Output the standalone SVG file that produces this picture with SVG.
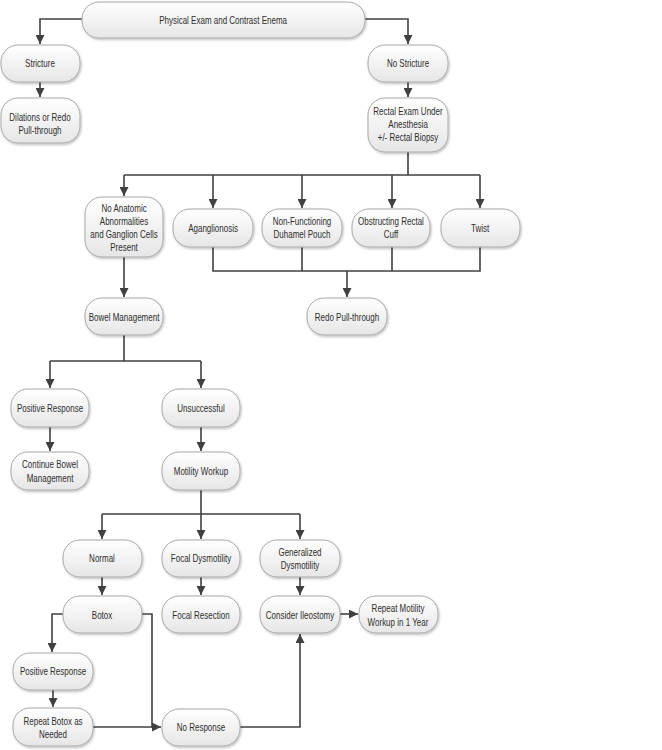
<svg xmlns="http://www.w3.org/2000/svg" width="662" height="750" viewBox="0 0 662 750">
<defs>
<linearGradient id="g" x1="0" y1="0" x2="0" y2="1">
<stop offset="0" stop-color="#ffffff"/>
<stop offset="1" stop-color="#e6e6e6"/>
</linearGradient>
<filter id="sh" x="-10%" y="-10%" width="130%" height="140%">
<feDropShadow dx="1" dy="1.5" stdDeviation="1.2" flood-color="#000" flood-opacity="0.25"/>
</filter>
<marker id="ah" viewBox="0 0 10 10" refX="10" refY="5" markerWidth="9" markerHeight="9" markerUnits="userSpaceOnUse" orient="auto">
<path d="M0,0 L10,5 L0,10 z" fill="#404040"/>
</marker>
<style>
.n rect{fill:url(#g);stroke:#a8a8a8;stroke-width:1;filter:url(#sh)}
.n text{font-family:"Liberation Sans",Arial,sans-serif;font-size:10px;fill:#2e2e2e;text-anchor:middle;dominant-baseline:central;transform-box:fill-box;transform-origin:center;transform:translateY(1px) scaleX(0.8)}
.c path{fill:none;stroke:#404040;stroke-width:1.6}
.c .a{marker-end:url(#ah)}
</style>
</defs>
<rect width="662" height="750" fill="#fff"/>
<g class="c">
<path class="a" d="M82,19 H40 V44"/>
<path class="a" d="M365,19 H408 V44"/>
<path class="a" d="M40,82 V97"/>
<path class="a" d="M408,82 V97"/>
<path d="M408,152 V175 M124,175 H480"/>
<path class="a" d="M124,175 V196"/>
<path class="a" d="M213,175 V208"/>
<path class="a" d="M302,175 V208"/>
<path class="a" d="M392,175 V208"/>
<path class="a" d="M480,175 V208"/>
<path d="M213,247 V271 H480 V247 M302,247 V271 M392,247 V271"/>
<path class="a" d="M347,271 V297"/>
<path class="a" d="M124,257 V297"/>
<path d="M124,335 V361 M50,361 H201"/>
<path class="a" d="M50,361 V388"/>
<path class="a" d="M201,361 V388"/>
<path class="a" d="M50,427 V451"/>
<path class="a" d="M201,427 V451"/>
<path d="M201,490 V514 M102,514 H300"/>
<path class="a" d="M102,514 V539"/>
<path class="a" d="M201,514 V539"/>
<path class="a" d="M300,514 V539"/>
<path class="a" d="M102,577 V595"/>
<path class="a" d="M201,577 V595"/>
<path class="a" d="M300,577 V595"/>
<path class="a" d="M340,614 H358"/>
<path class="a" d="M63,614 H52 V652"/>
<path class="a" d="M53,690 V707"/>
<path class="a" d="M142,614 H152 V727 H161"/>
<path d="M93,727 H152"/>
<path class="a" d="M240,727 H300 V634"/>
</g>
<g id="n1" class="n"><rect x="82" y="2" width="283" height="36" rx="17"/><text x="223" y="20">Physical Exam and Contrast Enema</text></g>
<g id="n2" class="n"><rect x="1" y="45" width="79" height="37" rx="17"/><text x="40" y="63">Stricture</text></g>
<g id="n3" class="n"><rect x="1" y="98" width="79" height="45" rx="17"/><text x="40" y="117">Dilations or Redo</text><text x="40" y="130">Pull-through</text></g>
<g id="n4" class="n"><rect x="368" y="45" width="80" height="37" rx="17"/><text x="408" y="63">No Stricture</text></g>
<g id="n5" class="n"><rect x="368" y="98" width="80" height="54" rx="17"/><text x="408" y="111">Rectal Exam Under</text><text x="408" y="124">Anesthesia</text><text x="408" y="137">+/- Rectal Biopsy</text></g>
<g id="n6" class="n"><rect x="85" y="197" width="78" height="60" rx="17"/><text x="124" y="208">No Anatomic</text><text x="124" y="221">Abnormalities</text><text x="124" y="234">and Ganglion Cells</text><text x="124" y="247">Present</text></g>
<g id="n7" class="n"><rect x="173" y="209" width="80" height="38" rx="17"/><text x="213" y="228">Aganglionosis</text></g>
<g id="n8" class="n"><rect x="262" y="209" width="80" height="38" rx="17"/><text x="302" y="221">Non-Functioning</text><text x="302" y="234">Duhamel Pouch</text></g>
<g id="n9" class="n"><rect x="352" y="209" width="78" height="38" rx="17"/><text x="391" y="221">Obstructing Rectal</text><text x="391" y="234">Cuff</text></g>
<g id="n10" class="n"><rect x="441" y="209" width="79" height="38" rx="17"/><text x="480" y="228">Twist</text></g>
<g id="n11" class="n"><rect x="85" y="298" width="78" height="37" rx="17"/><text x="124" y="317">Bowel Management</text></g>
<g id="n12" class="n"><rect x="307" y="298" width="80" height="37" rx="17"/><text x="347" y="317">Redo Pull-through</text></g>
<g id="n13" class="n"><rect x="11" y="389" width="78" height="38" rx="17"/><text x="50" y="408">Positive Response</text></g>
<g id="n14" class="n"><rect x="162" y="389" width="78" height="38" rx="17"/><text x="201" y="408">Unsuccessful</text></g>
<g id="n15" class="n"><rect x="11" y="452" width="78" height="38" rx="17"/><text x="50" y="464">Continue Bowel</text><text x="50" y="478">Management</text></g>
<g id="n16" class="n"><rect x="162" y="452" width="78" height="38" rx="17"/><text x="201" y="471">Motility Workup</text></g>
<g id="n17" class="n"><rect x="63" y="540" width="79" height="37" rx="17"/><text x="102" y="558">Normal</text></g>
<g id="n18" class="n"><rect x="162" y="540" width="78" height="37" rx="17"/><text x="201" y="558">Focal Dysmotility</text></g>
<g id="n19" class="n"><rect x="260" y="540" width="80" height="37" rx="17"/><text x="300" y="552">Generalized</text><text x="300" y="565">Dysmotility</text></g>
<g id="n20" class="n"><rect x="63" y="596" width="79" height="37" rx="17"/><text x="102" y="615">Botox</text></g>
<g id="n21" class="n"><rect x="162" y="596" width="78" height="37" rx="17"/><text x="201" y="615">Focal Resection</text></g>
<g id="n22" class="n"><rect x="260" y="596" width="80" height="37" rx="17"/><text x="300" y="615">Consider Ileostomy</text></g>
<g id="n23" class="n"><rect x="359" y="596" width="79" height="37" rx="17"/><text x="398" y="608">Repeat Motility</text><text x="398" y="622">Workup in 1 Year</text></g>
<g id="n24" class="n"><rect x="13" y="653" width="80" height="37" rx="17"/><text x="53" y="671">Positive Response</text></g>
<g id="n25" class="n"><rect x="13" y="708" width="80" height="38" rx="17"/><text x="53" y="721">Repeat Botox as</text><text x="53" y="734">Needed</text></g>
<g id="n26" class="n"><rect x="162" y="709" width="78" height="37" rx="17"/><text x="201" y="727">No Response</text></g>
</svg>
